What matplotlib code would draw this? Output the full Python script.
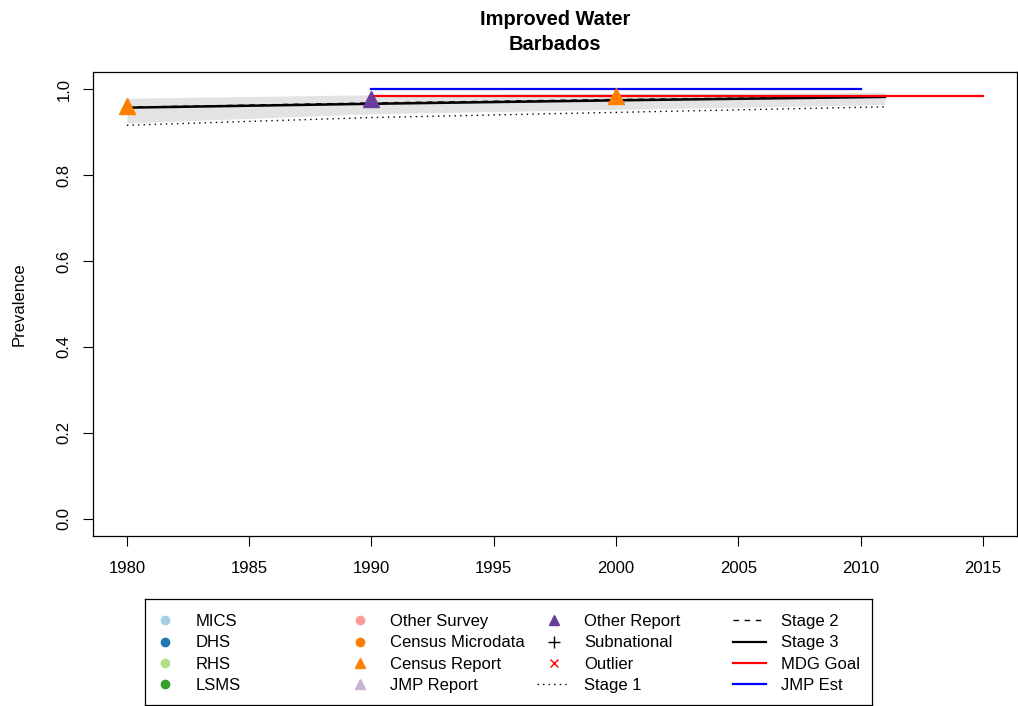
import matplotlib
matplotlib.use("Agg")
import matplotlib.pyplot as plt
from matplotlib.lines import Line2D
from matplotlib.legend import Legend

plt.rcParams['font.family'] = ['Liberation Sans', 'DejaVu Sans']

# model estimates
years = [1980, 1990, 2000, 2011]
stage1 = [0.916, 0.934, 0.946, 0.959]
stage2 = [0.958, 0.968, 0.976, 0.983]
stage3 = [0.957, 0.966, 0.974, 0.982]
band_lo = [0.921, 0.943, 0.953, 0.964]
band_hi = [0.979, 0.987, 0.990, 0.992]

# survey / report points
census_years = [1980, 2000]
census_vals = [0.960, 0.984]
other_years = [1990]
other_vals = [0.976]

# reference lines
mdg_years = [1990, 2015]
mdg_val = 0.985
jmp_years = [1990, 2010]
jmp_val = 1.0

W, H = 1018, 706
fig = plt.figure(figsize=(W / 100, H / 100), dpi=100)
ax = fig.add_axes([92.7 / W, 1 - 536 / H, (1017 - 92.7) / W, (536 - 72) / H])

ax.fill_between(years, band_lo, band_hi, color='#E3E3E3', lw=0)
ax.plot(years, stage1, color='black', lw=1, ls=(0, (1, 3)))
ax.plot(years, stage2, color='black', lw=1, ls=(0, (4, 4)))
ax.plot(years, stage3, color='black', lw=1.8)
ax.plot(mdg_years, [mdg_val] * 2, color='red', lw=1.6)
ax.plot(jmp_years, [jmp_val] * 2, color='blue', lw=1.6)
ax.plot(census_years, census_vals, ls='none', marker='^', ms=11, color='#FF7F00', mec='#FF7F00')
ax.plot(other_years, other_vals, ls='none', marker='^', ms=11, color='#6A3D9A', mec='#6A3D9A')

ax.set_xlim(1978.6, 2016.4)
ax.set_ylim(-0.04, 1.04)
ax.set_xticks([1980, 1985, 1990, 1995, 2000, 2005, 2010, 2015])
ax.set_yticks([0.0, 0.2, 0.4, 0.6, 0.8, 1.0])
ax.set_yticklabels(['0.0', '0.2', '0.4', '0.6', '0.8', '1.0'])
ax.tick_params(axis='both', labelsize=12, length=7, width=0.8, direction='out')
ax.tick_params(axis='x', pad=11)
ax.tick_params(axis='y', pad=8, labelrotation=90)
for lab in ax.get_yticklabels():
    lab.set_va('center')
for s in ax.spines.values():
    s.set_linewidth(0.9)
ax.set_ylabel('Prevalence', fontsize=12, labelpad=22)
ax.set_title('Improved Water\nBarbados', fontsize=14.4, fontweight='bold', pad=16, linespacing=1.4)

# legend box
lx0, lx1, ly0, ly1 = 145, 872, 599, 705
lax = fig.add_axes([lx0 / W, 1 - ly1 / H, (lx1 - lx0) / W, (ly1 - ly0) / H])
lax.set_xticks([])
lax.set_yticks([])
for s in lax.spines.values():
    s.set_linewidth(0.9)
lax.patch.set_alpha(0)

def mk(marker, color, ms=6):
    return Line2D([], [], ls='none', marker=marker, color=color, mec=color, ms=ms)

def ln(ls, color):
    return Line2D([], [], ls=ls, color=color, lw=1.6 if ls == '-' else 1)

columns = [
    [(mk('o', '#A6CEE3'), 'MICS'), (mk('o', '#1F78B4'), 'DHS'),
     (mk('o', '#B2DF8A'), 'RHS'), (mk('o', '#33A02C'), 'LSMS')],
    [(mk('o', '#FB9A99'), 'Other Survey'), (mk('o', '#FF7F00'), 'Census Microdata'),
     (mk('^', '#FF7F00', 7), 'Census Report'), (mk('^', '#CAB2D6', 7), 'JMP Report')],
    [(mk('^', '#6A3D9A', 7), 'Other Report'), (mk('+', 'black', 9), 'Subnational'),
     (mk('x', 'red', 6), 'Outlier'), (ln((0, (1, 3)), 'black'), 'Stage 1')],
    [(ln((0, (4, 4)), 'black'), 'Stage 2'), (ln('-', 'black'), 'Stage 3'),
     (ln('-', 'red'), 'MDG Goal'), (ln('-', 'blue'), 'JMP Est')],
]
col_text_x = [196, 391, 585, 781]
for col, tx in zip(columns, col_text_x):
    hx = tx - 48
    leg = Legend(lax, [h for h, _ in col], [t for _, t in col],
                 loc='upper left', bbox_to_anchor=((hx - lx0) / (lx1 - lx0), 1 - 15 / (ly1 - ly0)),
                 frameon=False, fontsize=12, handlelength=2.0, handletextpad=0.85,
                 labelspacing=0.38, borderpad=0, borderaxespad=0)
    lax.add_artist(leg)

fig.savefig('out.png', dpi=100)
